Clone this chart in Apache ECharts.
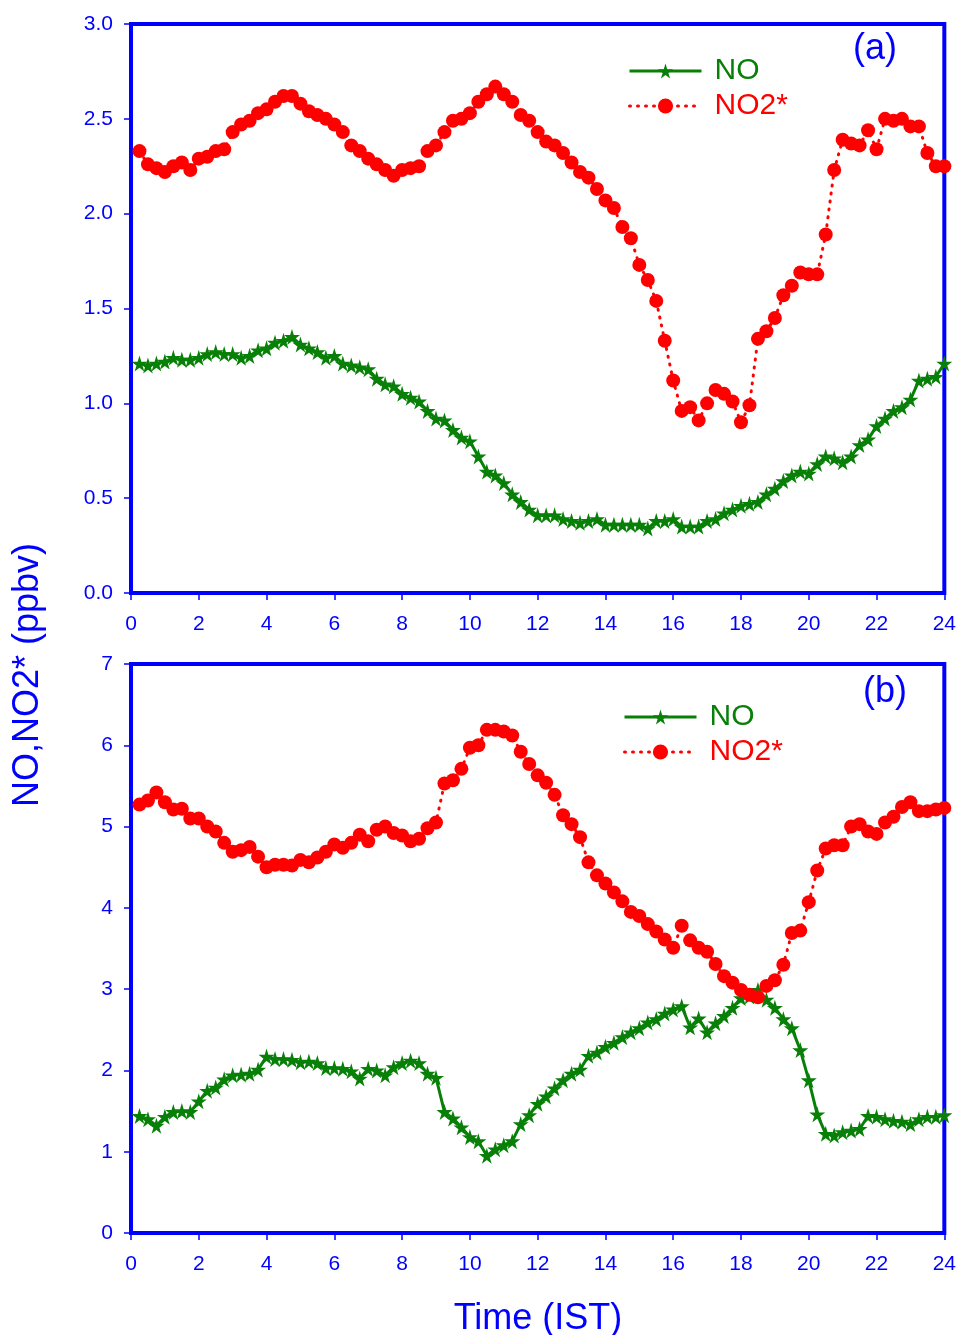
<!DOCTYPE html>
<html>
<head>
<meta charset="utf-8">
<script src="https://cdn.jsdelivr.net/npm/echarts@6/dist/echarts.min.js"></script>
<style>
  html, body { margin: 0; padding: 0; background: #fff; }
  #chart { width: 959px; height: 1335px; }
</style>
</head>
<body>
<div id="chart"></div>
<script>
// sampling grid: every 15 min from 00:15 to 24:00
const hours = Array.from({ length: 96 }, (_, i) => (i + 1) * 0.25);

// panel (a)
const noA = [
  1.21, 1.20, 1.21, 1.22, 1.24, 1.23, 1.23, 1.24, 1.26, 1.27, 1.26, 1.26, 1.24, 1.25, 1.28, 1.29,
  1.32, 1.33, 1.35, 1.31, 1.29, 1.27, 1.24, 1.25, 1.21, 1.20, 1.19, 1.18, 1.13, 1.10, 1.09, 1.05,
  1.03, 1.01, 0.96, 0.92, 0.91, 0.86, 0.82, 0.80, 0.72, 0.64, 0.62, 0.58, 0.52, 0.48, 0.44, 0.41,
  0.41, 0.41, 0.39, 0.38, 0.37, 0.38, 0.39, 0.36, 0.36, 0.36, 0.36, 0.36, 0.34, 0.38, 0.38, 0.39,
  0.35, 0.35, 0.35, 0.38, 0.39, 0.42, 0.44, 0.46, 0.47, 0.48, 0.52, 0.55, 0.59, 0.62, 0.64, 0.63,
  0.68, 0.72, 0.71, 0.69, 0.72, 0.78, 0.81, 0.88, 0.92, 0.96, 0.98, 1.02, 1.12, 1.13, 1.14, 1.21
];
const no2A = [
  2.33, 2.26, 2.24, 2.22, 2.25, 2.27, 2.23, 2.29, 2.30, 2.33, 2.34, 2.43, 2.47, 2.49, 2.53, 2.55,
  2.59, 2.62, 2.62, 2.58, 2.54, 2.52, 2.50, 2.47, 2.43, 2.36, 2.33, 2.29, 2.26, 2.23, 2.20, 2.23,
  2.24, 2.25, 2.33, 2.36, 2.43, 2.49, 2.50, 2.53, 2.59, 2.63, 2.67, 2.63, 2.59, 2.52, 2.49, 2.43,
  2.38, 2.36, 2.32, 2.27, 2.22, 2.19, 2.13, 2.07, 2.03, 1.93, 1.87, 1.73, 1.65, 1.54, 1.33, 1.12,
  0.96, 0.98, 0.91, 1.00, 1.07, 1.05, 1.01, 0.90, 0.99, 1.34, 1.38, 1.45, 1.57, 1.62, 1.69, 1.68,
  1.68, 1.89, 2.23, 2.39, 2.37, 2.36, 2.44, 2.34, 2.50, 2.49, 2.50, 2.46, 2.46, 2.32, 2.25, 2.25
];

// panel (b)
const noB = [
  1.44, 1.40, 1.32, 1.43, 1.49, 1.50, 1.49, 1.62, 1.75, 1.79, 1.89, 1.94, 1.95, 1.96, 2.01, 2.17,
  2.14, 2.14, 2.13, 2.10, 2.11, 2.09, 2.03, 2.03, 2.02, 1.99, 1.90, 2.02, 2.00, 1.94, 2.04, 2.09,
  2.12, 2.09, 1.96, 1.91, 1.49, 1.41, 1.30, 1.18, 1.13, 0.95, 1.03, 1.08, 1.13, 1.34, 1.45, 1.59,
  1.68, 1.78, 1.88, 1.96, 2.01, 2.18, 2.22, 2.29, 2.34, 2.41, 2.47, 2.52, 2.59, 2.63, 2.70, 2.75,
  2.79, 2.53, 2.64, 2.47, 2.58, 2.67, 2.77, 2.89, 2.91, 2.99, 2.87, 2.77, 2.63, 2.52, 2.25, 1.88,
  1.46, 1.22, 1.20, 1.24, 1.26, 1.28, 1.44, 1.43, 1.40, 1.38, 1.37, 1.34, 1.40, 1.43, 1.43, 1.45
];
const no2B = [
  5.27, 5.32, 5.42, 5.30, 5.21, 5.22, 5.10, 5.10, 5.00, 4.94, 4.80, 4.69, 4.71, 4.75, 4.63, 4.50,
  4.53, 4.53, 4.52, 4.59, 4.56, 4.62, 4.69, 4.78, 4.74, 4.80, 4.90, 4.82, 4.96, 5.00, 4.92, 4.89,
  4.82, 4.85, 4.98, 5.05, 5.53, 5.57, 5.71, 5.97, 6.00, 6.19, 6.19, 6.17, 6.12, 5.92, 5.77, 5.63,
  5.54, 5.39, 5.14, 5.03, 4.87, 4.56, 4.40, 4.30, 4.19, 4.08, 3.95, 3.90, 3.80, 3.71, 3.61, 3.51,
  3.78, 3.60, 3.51, 3.46, 3.31, 3.16, 3.08, 2.99, 2.93, 2.90, 3.04, 3.11, 3.30, 3.69, 3.72, 4.07,
  4.46, 4.73, 4.77, 4.77, 5.00, 5.03, 4.94, 4.91, 5.05, 5.12, 5.24, 5.30, 5.19, 5.19, 5.21, 5.23
];

const BLUE = '#0000ff';
const GREEN = '#088008';
const RED = '#ff0000';
const FONT = 'Liberation Sans, Arial, sans-serif';
const STAR = 'path://M50,0 L61,35 L98,35 L68,57 L79,91 L50,70 L21,91 L32,57 L2,35 L39,35 Z';

function pairs(vals) {
  return vals.map((v, i) => [hours[i], v]);
}

function xAxisFor(gridIndex) {
  return {
    type: 'value', gridIndex: gridIndex, min: 0, max: 24, interval: 2,
    axisLine: { show: false },
    axisTick: { show: true, length: 7, lineStyle: { color: BLUE, width: 1.5 } },
    axisLabel: { color: BLUE, fontSize: 21, fontFamily: FONT, margin: 21 },
    splitLine: { show: false }
  };
}

function yAxisFor(gridIndex, max, interval, decimals) {
  return {
    type: 'value', gridIndex: gridIndex, min: 0, max: max, interval: interval,
    axisLine: { show: false },
    axisTick: { show: true, length: 7, lineStyle: { color: BLUE, width: 1.5 } },
    axisLabel: {
      color: BLUE, fontSize: 21, fontFamily: FONT, margin: 18,
      formatter: v => v.toFixed(decimals)
    },
    splitLine: { show: false }
  };
}

function noSeries(idx, vals) {
  return {
    name: 'NO', type: 'line', xAxisIndex: idx, yAxisIndex: idx,
    data: pairs(vals),
    symbol: STAR, symbolSize: 16,
    itemStyle: { color: GREEN },
    lineStyle: { color: GREEN, width: 3 },
    z: 2
  };
}

function no2Series(idx, vals) {
  return {
    name: 'NO2*', type: 'line', xAxisIndex: idx, yAxisIndex: idx,
    data: pairs(vals),
    symbol: 'circle', symbolSize: 14,
    itemStyle: { color: RED },
    lineStyle: { color: RED, width: 3, type: [1, 7], cap: 'round' },
    z: 3
  };
}

function legendAt(left, top) {
  return {
    orient: 'vertical', left: left, top: top,
    itemWidth: 72, itemHeight: 19, itemGap: 5,
    lineStyle: { width: 3 },
    textStyle: { fontSize: 30, fontFamily: FONT, lineHeight: 30, padding: [0, 0, 0, 8] },
    data: [
      { name: 'NO', textStyle: { color: GREEN } },
      { name: 'NO2*', textStyle: { color: RED } }
    ]
  };
}

const chart = echarts.init(document.getElementById('chart'), null, { renderer: 'canvas' });
chart.setOption({
  animation: false,
  backgroundColor: '#fff',
  grid: [
    { left: 131, top: 24, width: 814, height: 569, show: true, borderColor: BLUE, borderWidth: 4, backgroundColor: 'transparent' },
    { left: 131, top: 664, width: 814, height: 569, show: true, borderColor: BLUE, borderWidth: 4, backgroundColor: 'transparent' }
  ],
  xAxis: [xAxisFor(0), xAxisFor(1)],
  yAxis: [yAxisFor(0, 3, 0.5, 1), yAxisFor(1, 7, 1, 0)],
  legend: [legendAt(623, 51), legendAt(618, 697)],
  series: [
    noSeries(0, noA), no2Series(0, no2A),
    noSeries(1, noB), no2Series(1, no2B)
  ],
  graphic: [
    { type: 'text', left: 853, top: 31, style: { text: '(a)', fontSize: 36, fontFamily: FONT, fill: BLUE } },
    { type: 'text', left: 863, top: 674, style: { text: '(b)', fontSize: 36, fontFamily: FONT, fill: BLUE } },
    {
      type: 'text', x: 28, y: 675, rotation: Math.PI / 2,
      style: { text: 'NO,NO2* (ppbv)', fontSize: 36, fontFamily: FONT, fill: BLUE, align: 'center', verticalAlign: 'middle' }
    },
    {
      type: 'text', x: 538, y: 1319,
      style: { text: 'Time (IST)', fontSize: 36, fontFamily: FONT, fill: BLUE, align: 'center', verticalAlign: 'middle' }
    }
  ]
});
</script>
</body>
</html>
